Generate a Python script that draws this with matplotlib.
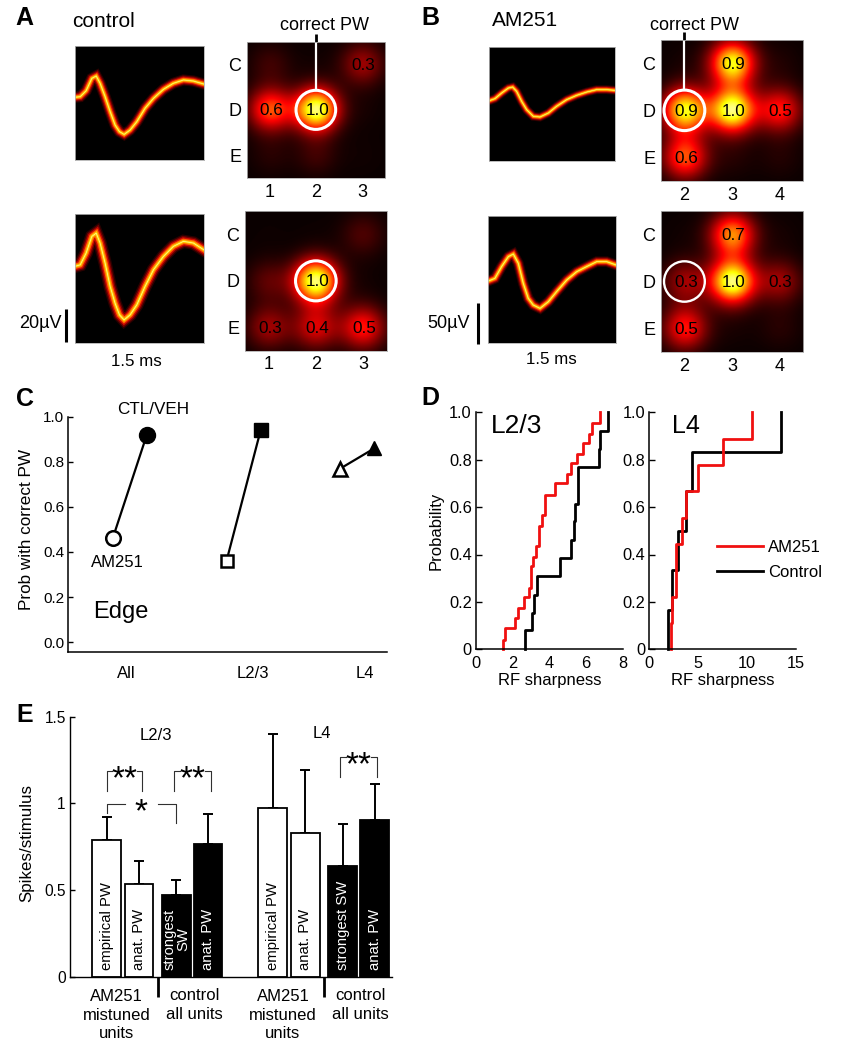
import numpy as np
import matplotlib
matplotlib.use("Agg")
import matplotlib.pyplot as plt
from matplotlib.colors import PowerNorm
from matplotlib.patches import Circle

plt.rcParams['font.family'] = ['Liberation Sans', 'DejaVu Sans']

W, H = 841, 1050

# waveforms, x and y as fraction of panel
a_top_x = [0, .044, .09, .134, .168, .198, .237, .276, .314, .348, .384, .430, .482, .546, .611, .688, .765, .843, .920, 1]
a_top_y = [.548, .554, .606, .714, .735, .671, .554, .423, .306, .248, .224, .262, .335, .452, .539, .618, .671, .70, .691, .665]
a_bot_y = [.593, .606, .697, .826, .852, .775, .619, .438, .308, .218, .179, .218, .295, .438, .567, .671, .749, .788, .775, .723]
b_x = [0, .045, .098, .152, .186, .218, .258, .298, .351, .404, .471, .537, .617, .697, .777, .856, .936, 1]
b_top_y = [.529, .547, .596, .640, .649, .611, .523, .450, .392, .386, .421, .480, .538, .576, .605, .626, .626, .620]
b_bot_x = [0, .052, .104, .157, .196, .235, .274, .313, .352, .405, .470, .535, .614, .692, .770, .849, .927, 1]
b_bot_y = [.488, .509, .601, .679, .700, .627, .470, .352, .300, .274, .326, .405, .496, .561, .601, .640, .640, .614]

# receptive field maps, rows C D E
rows = ['C', 'D', 'E']
a_cols = ['1', '2', '3']
b_cols = ['2', '3', '4']
a_top_rf = [[.12, .02, .3], [.6, 1, .03], [.07, .12, .02]]
a_bot_rf = [[.01, .01, .15], [.18, 1, .02], [.3, .4, .5]]
b_top_rf = [[.03, .9, .05], [.9, 1, .5], [.6, .06, .06]]
b_bot_rf = [[.02, .7, .03], [.3, 1, .3], [.5, .03, .07]]
a_top_txt = [['', '', '0.3'], ['0.6', '1.0', ''], ['', '', '']]
a_bot_txt = [['', '', ''], ['', '1.0', ''], ['0.3', '0.4', '0.5']]
b_top_txt = [['', '0.9', ''], ['0.9', '1.0', '0.5'], ['0.6', '', '']]
b_bot_txt = [['', '0.7', ''], ['0.3', '1.0', '0.3'], ['0.5', '', '']]

# panel C
c_groups = ['All', 'L2/3', 'L4']
c_am251 = [0.46, 0.36, 0.77]
c_ctl = [0.92, 0.94, 0.86]

# panel D, step locations and levels
l23_red_x = [1.45, 1.45, 1.6, 2.1, 2.3, 2.6, 2.9, 3.0, 3.1, 3.25, 3.45, 3.6, 3.75, 4.3, 4.95, 5.2, 5.5, 5.85, 6.15, 6.3, 6.75]
l23_red_y = [0, .04, .09, .13, .175, .22, .26, .35, .39, .435, .52, .565, .65, .70, .74, .785, .825, .87, .91, .955, 1]
l23_blk_x = [2.67, 2.67, 3.04, 3.16, 3.35, 4.6, 5.16, 5.35, 5.4, 5.58, 6.73, 6.76, 7.2]
l23_blk_y = [0, .08, .155, .23, .31, .385, .46, .54, .615, .77, .845, .92, 1]
l4_red_x = [2.2, 2.2, 2.28, 2.7, 2.78, 3.3, 3.8, 5.0, 7.57, 10.47]
l4_red_y = [0, .11, .22, .33, .445, .555, .667, .778, .889, 1]
l4_blk_x = [1.87, 1.87, 2.35, 2.9, 3.8, 4.36, 13.5]
l4_blk_y = [0, .167, .333, .5, .667, .833, 1]

# panel E
bar_names = ['empirical PW', 'anat. PW', 'strongest\nSW', 'anat. PW',
             'empirical PW', 'anat. PW', 'strongest SW', 'anat. PW']
bar_vals = [0.79, 0.535, 0.47, 0.765, 0.975, 0.83, 0.64, 0.905]
bar_tops = [0.92, 0.665, 0.56, 0.94, 1.40, 1.19, 0.88, 1.11]
bar_pos = [0, 1, 2.15, 3.13, 5.13, 6.14, 7.3, 8.28]
bar_cols = ['white', 'white', 'black', 'black', 'white', 'white', 'black', 'black']


fig = plt.figure(figsize=(W / 100, H / 100), dpi=100)


def px_ax(x0, y0, x1, y1):
    return fig.add_axes([x0 / W, 1 - y1 / H, (x1 - x0) / W, (y1 - y0) / H])


def label(x, y, s, size=12, **kw):
    kw.setdefault('ha', 'center')
    kw.setdefault('va', 'center')
    fig.text(x / W, 1 - y / H, s, fontsize=size, **kw)


def px_line(xs, ys, lw=2):
    fig.add_artist(plt.Line2D([x / W for x in xs], [1 - y / H for y in ys], color='black', lw=lw, solid_capstyle='butt'))


BAND = [(8, '#2a0000'), (6.4, '#700000'), (4.8, '#d00a00'), (3.2, '#ff6a00'), (1.7, '#ffc800'), (0.45, '#ffff90')]


def wave(box, xs, ys, scale=1.0):
    ax = px_ax(*box)
    ax.set_facecolor('black')
    for lw, c in BAND:
        ax.plot(xs, ys, color=c, lw=lw * scale, solid_joinstyle='miter')
    ax.set_xlim(0, 1)
    ax.set_ylim(0, 1)
    ax.set_xticks([])
    ax.set_yticks([])
    for s in ax.spines.values():
        s.set_color('#b0b0b0')
        s.set_linewidth(0.6)
    return ax


def blobs(grid, sigma=.34):
    # smooth each whisker value into a spot
    yy, xx = np.mgrid[-.5:2.5:160j, -.5:2.5:160j]
    img = np.zeros_like(xx)
    for r in range(3):
        for c in range(3):
            img += grid[r][c] * np.exp(-((xx - c) ** 2 + (yy - r) ** 2) / (2 * sigma ** 2))
    return img


def rf_map(box, grid, txt, cols, pw, pw_lw=2.2, stem=False):
    ax = px_ax(*box)
    ax.imshow(blobs(grid), cmap='hot', norm=PowerNorm(1.15, vmin=0, vmax=1.15), extent=(-.5, 2.5, 2.5, -.5),
              interpolation='bilinear', aspect='auto')
    ax.set_xticks(range(3), cols)
    ax.set_yticks(range(3), rows)
    ax.tick_params(length=0, labelsize=13, pad=4)
    for s in ax.spines.values():
        s.set_color('#b0b0b0')
        s.set_linewidth(0.6)
    for r in range(3):
        for c in range(3):
            if txt[r][c]:
                ax.text(c + .03, r + .02, txt[r][c], ha='center', va='center', fontsize=12.3)
    ax.add_patch(Circle((pw, 1), .43, fc='none', ec='white', lw=pw_lw))
    if stem:
        ax.plot([pw, pw], [-.5, .57], color='white', lw=1.6, solid_capstyle='butt')
        ax.plot([pw, pw], [-.5, -.66], color='black', lw=2, solid_capstyle='butt', clip_on=False)
    ax.set_xlim(-.5, 2.5)
    ax.set_ylim(2.5, -.5)
    return ax


# A and B, waveforms and maps
wave((74.5, 45.7, 203.7, 160), a_top_x, a_top_y)
wave((74.5, 214, 203.7, 343), a_top_x, a_bot_y, 1.2)
wave((489.3, 47, 614.7, 161), b_x, b_top_y, 0.8)
wave((488.3, 215.7, 616, 343.3), b_bot_x, b_bot_y, 0.95)
rf_map((246.7, 41.7, 385, 178), a_top_rf, a_top_txt, a_cols, 1, stem=True)
rf_map((245, 211, 386.7, 350.7), a_bot_rf, a_bot_txt, a_cols, 1)
rf_map((660.7, 39.7, 803, 181), b_top_rf, b_top_txt, b_cols, 0, stem=True)
rf_map((660.7, 211, 803, 352), b_bot_rf, b_bot_txt, b_cols, 0, pw_lw=1.7)

label(325, 25.7, 'correct PW', 13)
label(695, 26, 'correct PW', 13)
label(72, 21.7, 'control', 15, ha='left')
label(492, 21, 'AM251', 15, ha='left')
label(136, 361.7, '1.5 ms', 12.2)
label(551.7, 359, '1.5 ms', 12.2)
label(40, 323, '20µV', 13)
label(449, 323, '50µV', 13)
px_line([66.3, 66.3], [309, 342], 2.2)
px_line([477.7, 477.7], [303, 344], 2.2)
for x, y, s in [(15.7, 18, 'A'), (421, 18, 'B'), (16, 399, 'C'), (421.7, 398, 'D'), (16.7, 715, 'E')]:
    label(x, y, s, 18, ha='left', fontweight='bold')

# C
ax = px_ax(68.3, 416.7, 387, 652)
ax.set_xlim(-.54, 2.26)
ax.set_ylim(-.044, 1)
d = 0.15
markers = [('o', 10.5, 11.5), ('s', 9, 9.7), ('^', 9.5, 10)]
for i in range(3):
    ax.plot([i - d, i + d], [c_am251[i], c_ctl[i]], color='black', lw=1.6, zorder=2)
    m, ms_open, ms_fill = markers[i]
    ax.plot(i - d, c_am251[i], m, ms=ms_open, mfc='white', mec='black', mew=1.8, zorder=3, clip_on=False)
    ax.plot(i + d, c_ctl[i], m, ms=ms_fill, mfc='black', mec='black', zorder=3, clip_on=False)
for s in ['top', 'right']:
    ax.spines[s].set_visible(False)
for s in ['left', 'bottom']:
    ax.spines[s].set_linewidth(1.1)
ax.set_yticks([0, .2, .4, .6, .8, 1], ['0.0', '0.2', '0.4', '0.6', '0.8', '1.0'])
ax.set_xticks([-.033, 1.08, 2.07], c_groups)
ax.tick_params(axis='x', length=0, labelsize=12, pad=10)
ax.tick_params(axis='y', direction='in', length=3.6, width=1, labelsize=11, pad=3)
label(27, 530, 'Prob with correct PW', 12.3, rotation=90)
label(153, 409, 'CTL/VEH', 12.3)
label(117, 562.7, 'AM251', 12)
label(92.7, 612, 'Edge', 17, ha='left')

# D
d_left = px_ax(476, 412.3, 622.7, 649.3)
d_right = px_ax(649.3, 412.3, 796, 649.3)
d_left.step(l23_blk_x, l23_blk_y, where='post', color='black', lw=2, clip_on=False)
d_left.step(l23_red_x, l23_red_y, where='post', color='#f01010', lw=2, clip_on=False)
d_right.step(l4_blk_x, l4_blk_y, where='post', color='black', lw=2, clip_on=False, label='Control')
d_right.step(l4_red_x, l4_red_y, where='post', color='#f01010', lw=2, clip_on=False, label='AM251')
d_left.set_xlim(0, 8)
d_right.set_xlim(0, 15)
d_left.set_xticks([0, 2, 4, 6, 8])
d_right.set_xticks([0, 5, 10, 15])
for ax in (d_left, d_right):
    ax.set_ylim(0, 1)
    ax.set_yticks([0, .2, .4, .6, .8, 1], ['0', '0.2', '0.4', '0.6', '0.8', '1.0'])
    ax.tick_params(axis='x', length=0, labelsize=11.8, pad=4.5)
    ax.tick_params(axis='y', direction='in', length=4, width=1, labelsize=11.8, pad=3)
    for s in ['top', 'right']:
        ax.spines[s].set_visible(False)
    for s in ['left', 'bottom']:
        ax.spines[s].set_linewidth(1.1)
h, lab = d_right.get_legend_handles_labels()
d_right.legend(h[::-1], lab[::-1], loc='center left', bbox_to_anchor=(.459, .377), frameon=False, fontsize=12,
               handlelength=2.76, handletextpad=.32, labelspacing=.6, borderpad=0, borderaxespad=0)
label(436, 530.7, 'Probability', 12, rotation=90)
label(550, 681, 'RF sharpness', 12)
label(722.7, 681, 'RF sharpness', 12)
label(517, 426, 'L2/3', 19)
label(686, 426, 'L4', 18)

# E
ax = px_ax(70, 716.7, 391.7, 976.7)
ax.bar(bar_pos, bar_vals, width=.89, color=bar_cols, edgecolor='black', lw=1.3, zorder=2)
ax.errorbar(bar_pos, bar_vals, yerr=[[0] * 8, [t - v for t, v in zip(bar_tops, bar_vals)]], fmt='none',
            ecolor='black', elinewidth=1.4, capsize=3.6, capthick=1.4, zorder=1)
for p, n, c in zip(bar_pos, bar_names, bar_cols):
    ax.text(p, .04, n, rotation=90, ha='center', va='bottom', multialignment='center', linespacing=.95,
            color='black' if c == 'white' else 'white', fontsize=10.7, zorder=3)
ax.set_xlim(-1.134, 8.81)
ax.set_ylim(0, 1.5)
ax.set_xticks([])
ax.set_yticks([0, .5, 1, 1.5], ['0', '0.5', '1', '1.5'])
ax.tick_params(axis='y', direction='in', length=3.6, width=1, labelsize=11.2, pad=3)
for s in ['top', 'right']:
    ax.spines[s].set_visible(False)
for s in ['left', 'bottom']:
    ax.spines[s].set_linewidth(1)


def bracket(x0, x1, in0, in1, top, low0, low1):
    ax.plot([x0, x0, in0], [low0, top, top], color='#303030', lw=.8, clip_on=False, solid_joinstyle='round')
    ax.plot([in1, x1, x1], [top, top, low1], color='#303030', lw=.8, clip_on=False, solid_joinstyle='round')


def stars(x, y, s):
    ax.text(x, y - .05, s, ha='center', va='center', fontsize=24)


bracket(0, 1.082, .155, .928, 1.188, 1.073, 1.073)
stars(.536, 1.188, '**')
bracket(2.082, 3.237, 2.268, 3.041, 1.188, 1.073, 1.073)
stars(2.66, 1.188, '**')
bracket(0, 2.144, .567, 1.598, .996, .942, .885)
stars(1.06, .996, '*')
bracket(7.216, 8.371, 7.402, 8.165, 1.265, 1.15, 1.15)
stars(7.78, 1.265, '**')

label(27, 843, 'Spikes/stimulus', 12.2, rotation=90)
label(156, 735.7, 'L2/3', 12)
label(321.7, 734, 'L4', 12)
px_line([158.3, 158.3], [976.7, 996.7], 2)
px_line([324.3, 324.3], [976.7, 996.7], 2)
label(116.7, 1015, 'AM251\nmistuned\nunits', 12, linespacing=1.3)
label(283, 1015, 'AM251\nmistuned\nunits', 12, linespacing=1.3)
label(194, 1005, 'control\nall units', 12, linespacing=1.3)
label(360.7, 1005, 'control\nall units', 12, linespacing=1.3)

fig.savefig('out.png', dpi=100)
